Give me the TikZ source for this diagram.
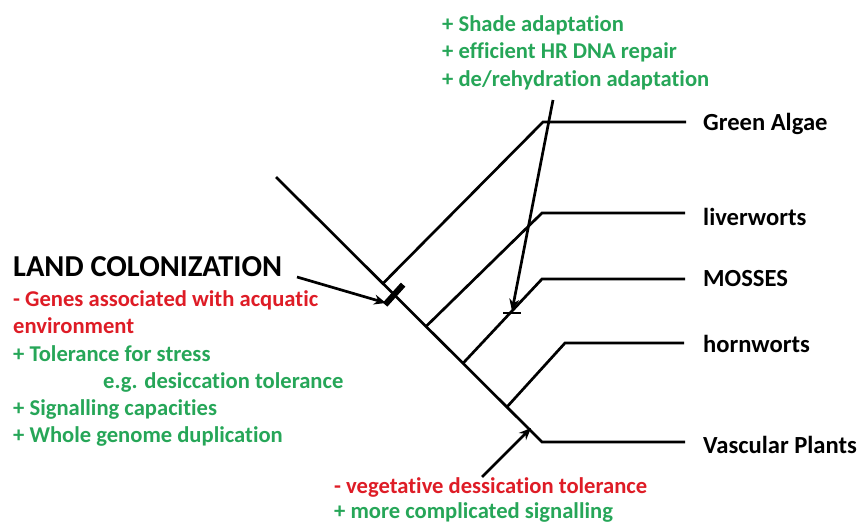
\documentclass[tikz,border=0pt]{standalone}
\usepackage{fontspec}
\setmainfont[Ligatures=NoCommon]{Carlito}
\usetikzlibrary{arrows.meta,calc}
\definecolor{tred}{RGB}{222,28,38}
\definecolor{tgreen}{RGB}{38,166,88}
\tikzset{
  branch/.style={line width=2.7pt, line cap=butt, line join=miter},
  pointer/.style={line width=2.7pt, -{Stealth[length=12pt,width=10pt]}},
  txt/.style={inner sep=0pt, anchor=base west, font=\bfseries\fontsize{22.6}{26}\selectfont},
  green/.style={txt, text=tgreen},
  red/.style={txt, text=tred},
  taxon/.style={txt, text=black, font=\bfseries\fontsize{24.6}{28}\selectfont},
}
\begin{document}
\begin{tikzpicture}[x=1pt,y=-1pt]
\useasboundingbox (0,0) rectangle (861,524);
% main stem
\coordinate (root) at (276,177);
\coordinate (vp) at (542,442);
\draw[branch] (root) -- (vp) -- (685,442);
% junctions
\coordinate (jga) at ($(root)!0.402!(vp)$);
\coordinate (jlw) at ($(root)!0.564!(vp)$);
\coordinate (jmo) at ($(root)!0.703!(vp)$);
\coordinate (jhw) at ($(root)!0.868!(vp)$);
\coordinate (kga) at (543,122);
\coordinate (klw) at (542,213);
\coordinate (kmo) at (542,279);
\coordinate (khw) at (565,343);
\draw[branch] (jga) -- (kga) -- (686,122);
\draw[branch] (jlw) -- (klw) -- (685,213);
\draw[branch] (jmo) -- (kmo) -- (685,279);
\draw[branch] (jhw) -- (khw) -- (684,343);
% taxa
\node[taxon] (ga) at (703,131) {Green Algae};
\node[taxon] (lw) at (703,225) {liverworts};
\node[taxon] (mo) at (703,286) {MOSSES};
\node[taxon] (hw) at (703,352) {hornworts};
\node[taxon] (vpl) at (703,453) {Vascular Plants};
% land colonization mark
\coordinate (bar) at ($(root)!0.444!(vp)$);
\draw[line width=6pt] ($(bar)+(-9,10)$) -- ($(bar)+(9,-10)$);
\coordinate (lcs) at (297,277);
\coordinate (lct) at (386,303);
\draw[pointer] (lcs) -- (lct);
% left texts
\node[txt, text=black, font=\bfseries\fontsize{30.4}{34}\selectfont] (lc) at (13,276) {LAND COLONIZATION};
\node[red] (l1) at (13,306) {- Genes associated with acquatic};
\node[red] (l2) at (13,333) {environment};
\node[green] (l3) at (13,361) {+ Tolerance for stress};
\node[green] (l4) at (103,388) {e.g. desiccation tolerance};
\node[green] (l5) at (13,415) {+ Signalling capacities};
\node[green] (l6) at (13,442) {+ Whole genome duplication};
% top texts
\node[green] (t1) at (442,32) {+ Shade adaptation};
\node[green] (t2) at (442,59) {+ efficient HR DNA repair};
\node[green] (t3) at (442,87) {+ de/rehydration adaptation};
\coordinate (tas) at (553,100);
\coordinate (tat) at (512,311);
\draw[pointer] (tas) -- (tat);
\coordinate (tk1) at (503,313);
\coordinate (tk2) at (521,313);
\draw[branch] (tk1) -- (tk2);
% bottom
\coordinate (bas) at (482,477);
\coordinate (bat) at (531,428);
\draw[pointer] (bas) -- (bat);
\node[red] (b1) at (334,493) {- vegetative dessication tolerance};
\node[green] (b2) at (334,518) {+ more complicated signalling};
\end{tikzpicture}
\end{document}
